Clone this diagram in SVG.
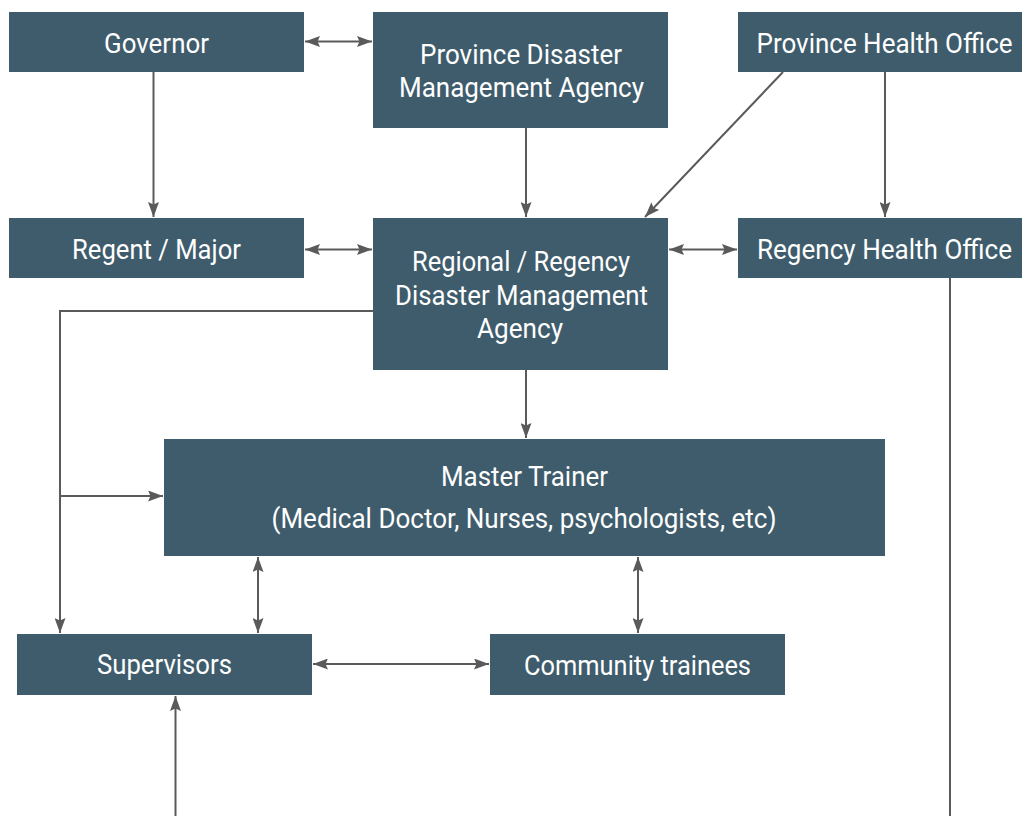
<svg xmlns="http://www.w3.org/2000/svg" width="1022" height="816" viewBox="0 0 1022 816">
<style>
.box{fill:#3e5c6c}
.t{fill:#ffffff;font-family:Roboto,"Liberation Sans",sans-serif;font-size:28px;text-anchor:middle}
.c{fill:none;stroke:#5a5a5a;stroke-width:2}
</style>
<defs>
<marker id="ah" viewBox="0 0 15 11" refX="15" refY="5.5" markerWidth="15" markerHeight="11" markerUnits="userSpaceOnUse" orient="auto-start-reverse">
<path d="M0,0 L15,5.5 L0,11 L2.5,5.5 z" fill="#5a5a5a"/>
</marker>
</defs>
<rect width="1022" height="816" fill="#ffffff"/>
<g id="connectors">
<line class="c" x1="305" y1="41.5" x2="372" y2="41.5" marker-start="url(#ah)" marker-end="url(#ah)"/>
<line class="c" x1="153.5" y1="72" x2="153.5" y2="217" marker-end="url(#ah)"/>
<line class="c" x1="526" y1="128" x2="526" y2="217" marker-end="url(#ah)"/>
<line class="c" x1="783" y1="72" x2="645" y2="217" marker-end="url(#ah)"/>
<line class="c" x1="885" y1="72" x2="885" y2="217" marker-end="url(#ah)"/>
<line class="c" x1="305" y1="249.5" x2="372" y2="249.5" marker-start="url(#ah)" marker-end="url(#ah)"/>
<line class="c" x1="669" y1="249.5" x2="737" y2="249.5" marker-start="url(#ah)" marker-end="url(#ah)"/>
<line class="c" x1="950" y1="278" x2="950" y2="816"/>
<polyline class="c" points="373,311 60,311 60,633" marker-end="url(#ah)"/>
<line class="c" x1="60" y1="496" x2="163" y2="496" marker-end="url(#ah)"/>
<line class="c" x1="526" y1="370" x2="526" y2="438" marker-end="url(#ah)"/>
<line class="c" x1="258" y1="557" x2="258" y2="633" marker-start="url(#ah)" marker-end="url(#ah)"/>
<line class="c" x1="638" y1="557" x2="638" y2="633" marker-start="url(#ah)" marker-end="url(#ah)"/>
<line class="c" x1="313" y1="664" x2="489" y2="664" marker-start="url(#ah)" marker-end="url(#ah)"/>
<line class="c" x1="175.5" y1="816" x2="175.5" y2="696" marker-end="url(#ah)"/>
</g>
<g id="governor">
<rect class="box" x="9" y="12" width="295" height="60"/>
<text class="t" x="156.5" y="53" textLength="105" lengthAdjust="spacingAndGlyphs">Governor</text>
</g>
<g id="province-dma">
<rect class="box" x="373" y="12" width="295" height="116"/>
<text class="t" x="521" y="64" textLength="202" lengthAdjust="spacingAndGlyphs">Province Disaster</text>
<text class="t" x="521.5" y="97" textLength="245" lengthAdjust="spacingAndGlyphs">Management Agency</text>
</g>
<g id="province-health">
<rect class="box" x="738" y="12" width="284" height="60"/>
<text class="t" x="884.5" y="53" textLength="256" lengthAdjust="spacingAndGlyphs">Province Health Office</text>
</g>
<g id="regent">
<rect class="box" x="9" y="218" width="295" height="60"/>
<text class="t" x="156.5" y="259" textLength="169" lengthAdjust="spacingAndGlyphs">Regent / Major</text>
</g>
<g id="regional-dma">
<rect class="box" x="373" y="218" width="295" height="152"/>
<text class="t" x="521" y="271" textLength="218" lengthAdjust="spacingAndGlyphs">Regional / Regency</text>
<text class="t" x="521.5" y="305" textLength="253" lengthAdjust="spacingAndGlyphs">Disaster Management</text>
<text class="t" x="520" y="338" textLength="86" lengthAdjust="spacingAndGlyphs">Agency</text>
</g>
<g id="regency-health">
<rect class="box" x="738" y="218" width="284" height="60"/>
<text class="t" x="884.5" y="259" textLength="255" lengthAdjust="spacingAndGlyphs">Regency Health Office</text>
</g>
<g id="master-trainer">
<rect class="box" x="164" y="439" width="721" height="117"/>
<text class="t" x="524.5" y="486" textLength="167" lengthAdjust="spacingAndGlyphs">Master Trainer</text>
<text class="t" x="524" y="528" textLength="505" lengthAdjust="spacingAndGlyphs">(Medical Doctor, Nurses, psychologists, etc)</text>
</g>
<g id="supervisors">
<rect class="box" x="17" y="634" width="295" height="61"/>
<text class="t" x="164.5" y="674" textLength="135" lengthAdjust="spacingAndGlyphs">Supervisors</text>
</g>
<g id="community-trainees">
<rect class="box" x="490" y="634" width="295" height="61"/>
<text class="t" x="637.5" y="675" textLength="227" lengthAdjust="spacingAndGlyphs">Community trainees</text>
</g>
</svg>
